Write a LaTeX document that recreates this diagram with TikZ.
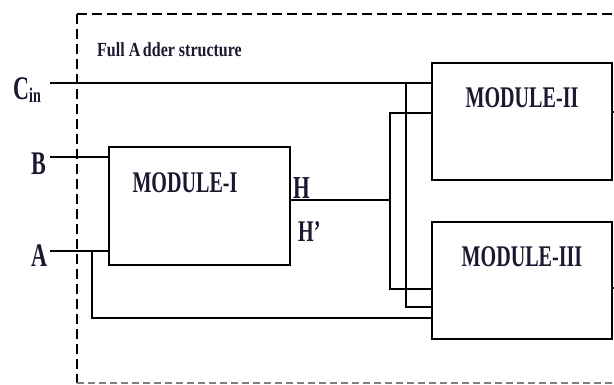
\documentclass[tikz,border=0pt]{standalone}
\usepackage{fontspec}
\setmainfont{Liberation Serif}
\definecolor{txt}{RGB}{28,24,48}
\begin{document}
\begin{tikzpicture}[x=1pt,y=-1pt,
  wire/.style={line width=1.8pt, line cap=rect},
  module/.style={draw, line width=1.9pt, anchor=north west, inner sep=0pt, outer sep=0pt},
  framedash/.style={line width=1.8pt, dash pattern=on 10pt off 5pt},
  framebot/.style={line width=1.4pt, gray, dash pattern=on 7pt off 4pt},
  lbl/.style={inner sep=0pt, text=txt, font=\bfseries}]
\useasboundingbox (0,0) rectangle (614,385);
% frame
\draw[framedash] (77,14) -- (616,14);
\draw[framedash] (77,14) -- (77,383);
\draw[framebot] (77,383) -- (616,383);
\node[lbl, anchor=base west] (title) at (97,57) {\fontsize{20}{20}\selectfont\scalebox{0.8}[1]{Full A\,dder structure}};
% modules
\node[module, minimum width=181pt, minimum height=118pt] (m1) at (109,147) {};
\node[module, minimum width=180pt, minimum height=117pt] (m2) at (432,63) {};
\node[module, minimum width=180pt, minimum height=117pt] (m3) at (432,222) {};
\node[lbl] (t1) at (185,183) {\fontsize{30}{30}\selectfont\scalebox{0.67}[1]{MODULE-I}};
\node[lbl] (t2) at (522,98) {\fontsize{30}{30}\selectfont\scalebox{0.67}[1]{MODULE-II}};
\node[lbl] (t3) at (522,257) {\fontsize{30}{30}\selectfont\scalebox{0.67}[1]{MODULE-III}};
% input labels
\node[lbl, anchor=base west] (lc) at (13,100) {\fontsize{33}{33}\selectfont\scalebox{0.67}[1]{C\raisebox{-3pt}{\fontsize{21}{21}\selectfont in}}};
\node[lbl, anchor=base west] (lb) at (31,175) {\fontsize{33}{33}\selectfont\scalebox{0.67}[1]{B}};
\node[lbl, anchor=base west] (la) at (31,266) {\fontsize{33}{33}\selectfont\scalebox{0.67}[1]{A}};
\node[lbl, anchor=base west] (lh) at (293,199) {\fontsize{32}{32}\selectfont\scalebox{0.67}[1]{H}};
\node[lbl, anchor=base west] (lh2) at (298,242) {\fontsize{30}{30}\selectfont\scalebox{0.67}[1]{H'}};
% coordinates
\coordinate (cin) at (51,83);
\coordinate (b) at (51,157);
\coordinate (a) at (51,251);
\coordinate (ja) at (92,251);
\coordinate (aIII) at (92,318);
\coordinate (jc) at (406,83);
\coordinate (cIII) at (406,307);
\coordinate (hj) at (390,200);
\coordinate (hII) at (390,113);
\coordinate (hIII) at (390,289);
\coordinate (o2) at (618,112);
\coordinate (o3) at (618,288);
% wires
\draw[wire] (cin) -- (cin -| m2.west);
\draw[wire] (jc) -- (cIII) -- (cIII -| m3.west);
\draw[wire] (b) -- (b -| m1.west);
\draw[wire] (a) -- (a -| m1.west);
\draw[wire] (ja) -- (aIII) -- (aIII -| m3.west);
\draw[wire] (hj -| m1.east) -- (hj);
\draw[wire] (hII -| m2.west) -- (hII) -- (hIII) -- (hIII -| m3.west);
\draw[wire] (o2 -| m2.east) -- (o2);
\draw[wire] (o3 -| m3.east) -- (o3);
\end{tikzpicture}
\end{document}
